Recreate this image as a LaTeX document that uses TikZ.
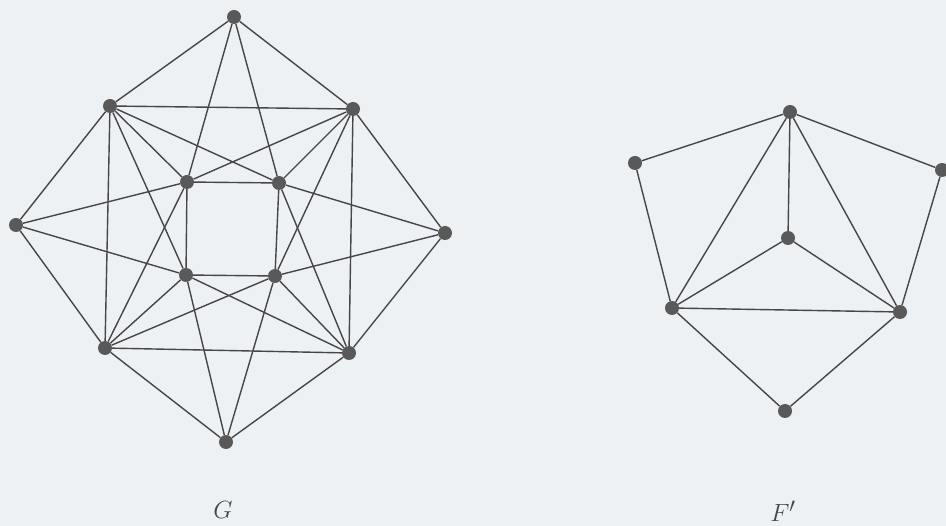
\documentclass[tikz,border=0pt]{standalone}
\usepackage{xcolor}
\usetikzlibrary{positioning}

\definecolor{paper}{RGB}{238,241,243}
\definecolor{ink}{RGB}{70,70,72}

\begin{document}
\begin{tikzpicture}[x=1pt, y=-1pt,
  vtx/.style={circle, fill=ink!90, minimum size=14pt, inner sep=0pt},
  edge/.style={draw=ink, line width=1.4pt},
  lbl/.style={font=\Huge, text=ink}
]
\fill[paper] (0,0) rectangle (946,526);
\useasboundingbox (0,0) rectangle (946,526);

% graph G
\node[vtx] (t)   at (234,17)  {};
\node[vtx] (ul)  at (110,106) {};
\node[vtx] (ur)  at (353,109) {};
\node[vtx] (l)   at (16,225)  {};
\node[vtx] (r)   at (445,233) {};
\node[vtx] (iul) at (187,182) {};
\node[vtx] (iur) at (279,183) {};
\node[vtx] (ill) at (186,275) {};
\node[vtx] (ilr) at (275,276) {};
\node[vtx] (ll)  at (105,348) {};
\node[vtx] (lr)  at (349,353) {};
\node[vtx] (b)   at (226,442) {};

\draw[edge] (t) -- (ul) (t) -- (ur) (r) -- (ur) (r) -- (lr)
            (b) -- (lr) (b) -- (ll) (l) -- (ll) (l) -- (ul);
\draw[edge] (ul) -- (ur) -- (lr) -- (ll) -- (ul);
\draw[edge] (iul) -- (iur) -- (ilr) -- (ill) -- (iul);
\draw[edge] (t) -- (iul) (t) -- (iur) (r) -- (iur) (r) -- (ilr)
            (b) -- (ilr) (b) -- (ill) (l) -- (ill) (l) -- (iul);
\draw[edge] (ul) -- (iul) (ul) -- (iur) (ul) -- (ill);
\draw[edge] (ur) -- (iur) (ur) -- (iul) (ur) -- (ilr);
\draw[edge] (lr) -- (ilr) (lr) -- (iur) (lr) -- (ill);
\draw[edge] (ll) -- (ill) (ll) -- (ilr) (ll) -- (iul);

% graph F'
\node[vtx] (fa) at (790,112) {};
\node[vtx] (fl) at (635,163) {};
\node[vtx] (fr) at (942,170) {};
\node[vtx] (fc) at (788,238) {};
\node[vtx] (fp) at (672,308) {};
\node[vtx] (fq) at (900,312) {};
\node[vtx] (fd) at (785,411) {};

\draw[edge] (fa) -- (fl) -- (fp) -- (fd) -- (fq) -- (fr) -- (fa);
\draw[edge] (fa) -- (fc) (fa) -- (fp) (fa) -- (fq);
\draw[edge] (fc) -- (fp) -- (fq) -- (fc);

\node[lbl] (gname) at (223,510) {$G$};
\node[lbl] (fname) at (783,511) {$F'$};
\end{tikzpicture}
\end{document}
